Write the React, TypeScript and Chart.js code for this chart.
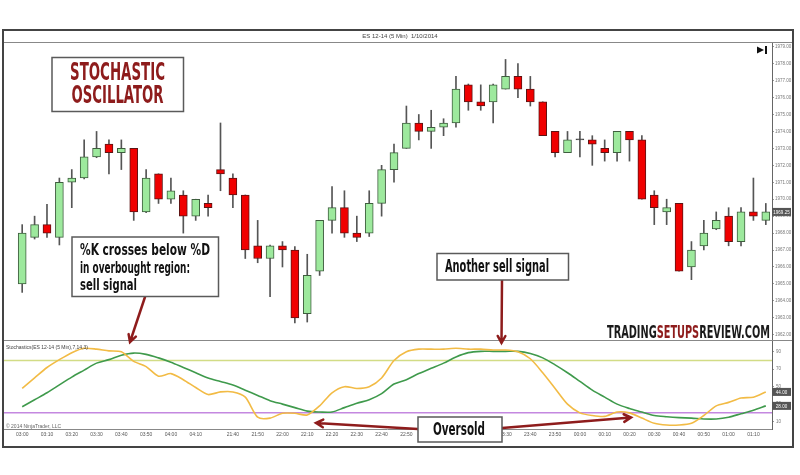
import React, { useEffect, useRef } from 'react';
import { Chart, registerables } from 'chart.js';

Chart.register(...registerables);

const TIMES = [
  '03:00', '03:05', '03:10', '03:15', '03:20', '03:25', '03:30', '03:35', '03:40', '03:45',
  '03:50', '03:55', '04:00', '04:05', '04:10', '04:15', '21:35', '21:40', '21:45', '21:50',
  '21:55', '22:00', '22:05', '22:10', '22:15', '22:20', '22:25', '22:30', '22:35', '22:40',
  '22:45', '22:50', '22:55', '23:00', '23:05', '23:10', '23:15', '23:20', '23:25', '23:30',
  '23:35', '23:40', '23:45', '23:50', '23:55', '00:00', '00:05', '00:10', '00:15', '00:20',
  '00:25', '00:30', '00:35', '00:40', '00:45', '00:50', '00:55', '01:00', '01:05', '01:10',
  '01:15',
];

const OPEN = [
  1965.0, 1967.75, 1968.5, 1967.75, 1971.0, 1971.25, 1972.5, 1973.25, 1972.75, 1973.0,
  1969.25, 1971.5, 1970.0, 1970.25, 1969.0, 1969.75, 1971.75, 1971.25, 1970.25, 1967.25,
  1966.5, 1967.25, 1967.0, 1963.25, 1965.75, 1968.75, 1969.5, 1968.0, 1968.0, 1969.75,
  1971.75, 1973.0, 1974.5, 1974.0, 1974.25, 1974.5, 1976.75, 1975.75, 1975.75, 1976.5,
  1977.25, 1976.5, 1975.75, 1974.0, 1972.75, 1973.5, 1973.5, 1973.0, 1972.75, 1974.0,
  1973.5, 1970.25, 1969.25, 1969.75, 1966.0, 1967.25, 1968.25, 1969.0, 1967.5, 1969.25,
  1968.75,
];
const HIGH = [
  1968.5, 1969.0, 1969.7, 1971.25, 1971.75, 1973.5, 1974.0, 1973.5, 1973.5, 1973.0,
  1971.75, 1971.5, 1971.25, 1970.5, 1970.0, 1970.25, 1974.5, 1971.5, 1970.25, 1968.75,
  1967.3, 1967.5, 1967.2, 1966.75, 1968.75, 1970.75, 1970.5, 1969.0, 1970.5, 1972.0,
  1973.25, 1975.5, 1975.0, 1975.25, 1974.75, 1977.25, 1976.8, 1976.75, 1976.8, 1978.25,
  1978.0, 1977.25, 1975.75, 1974.0, 1974.0, 1974.0, 1973.75, 1973.5, 1974.0, 1974.0,
  1973.75, 1970.5, 1970.0, 1969.75, 1967.5, 1968.75, 1969.25, 1969.5, 1969.5, 1971.25,
  1969.75,
];
const LOW = [
  1964.5, 1967.65, 1967.75, 1967.3, 1969.5, 1971.2, 1972.45, 1971.5, 1971.75, 1968.75,
  1969.2, 1969.75, 1969.75, 1968.0, 1968.75, 1969.0, 1970.5, 1969.5, 1966.5, 1966.25,
  1964.25, 1966.0, 1962.7, 1962.75, 1965.5, 1968.0, 1967.75, 1967.5, 1967.8, 1969.0,
  1971.0, 1973.0, 1973.5, 1973.0, 1973.75, 1974.25, 1975.25, 1975.25, 1974.5, 1976.5,
  1976.0, 1975.5, 1973.75, 1972.5, 1972.75, 1972.5, 1972.0, 1972.25, 1972.25, 1972.25,
  1970.0, 1968.5, 1968.5, 1965.75, 1965.25, 1967.0, 1968.2, 1967.25, 1967.25, 1968.75,
  1968.5,
];
const CLOSE = [
  1968.0, 1968.5, 1968.0, 1971.0, 1971.25, 1972.5, 1973.0, 1972.75, 1973.0, 1969.25,
  1971.25, 1970.0, 1970.5, 1969.0, 1970.0, 1969.5, 1971.5, 1970.25, 1967.0, 1966.5,
  1967.25, 1967.0, 1963.0, 1965.5, 1968.75, 1969.5, 1968.0, 1967.75, 1969.75, 1971.75,
  1972.75, 1974.5, 1974.0, 1974.25, 1974.5, 1976.5, 1975.75, 1975.5, 1976.75, 1977.25,
  1976.5, 1975.75, 1973.75, 1972.75, 1973.5, 1973.5, 1973.25, 1972.75, 1974.0, 1973.5,
  1970.0, 1969.5, 1969.5, 1965.75, 1967.0, 1968.0, 1968.75, 1967.5, 1969.25, 1969.0,
  1969.25,
];

const PCT_K = [
  48, 60, 72, 81, 89, 94, 93, 91, 90, 79,
  73, 62, 65, 58, 49, 41, 44, 44, 38, 15,
  14, 19.5, 19.5, 17.6, 28, 43, 50, 48, 50, 60,
  80, 90, 93, 93, 93, 94, 93, 93, 92, 92,
  90, 82, 66, 48, 30, 20, 17, 16, 21, 20,
  14, 8, 6, 6, 8, 17, 28, 32, 37, 38,
  44,
];
const PCT_D = [
  27, 35, 43, 52, 61, 69, 77, 81, 86, 88.5,
  87, 83, 78, 72, 66, 60, 56, 52, 46, 40,
  34, 30, 26, 22, 21, 21, 26, 31, 35, 42,
  53, 58, 65, 71, 77, 84, 89, 90.5, 90.5, 90.5,
  90.5, 88, 83, 75, 66, 56, 46, 38, 30, 25,
  21, 17, 15.5, 14.5, 14, 13, 13, 15, 19, 23,
  28,
];

const PRICE_TICKS = [1962, 1963, 1964, 1965, 1966, 1967, 1968, 1969, 1970, 1971, 1972, 1973, 1974, 1975, 1976, 1977, 1978, 1979];
const OSC_TICKS = [10, 20, 30, 40, 50, 60, 70, 80, 90];
const OVERBOUGHT = 80;
const OVERSOLD = 20;

const SMALL_FONT = '"Liberation Sans", Arial, sans-serif';
const ANNOT_FONT = '"Liberation Sans Narrow", "DejaVu Sans Condensed", "Roboto", "Liberation Sans", sans-serif';
const DARK_RED = '#8e1c1c';

function fitText(ctx: CanvasRenderingContext2D, parts: [string, string][], x: number, baseline: number, px: number, width: number) {
  ctx.save();
  ctx.font = `bold ${px}px ${ANNOT_FONT}`;
  const total = parts.reduce((s, [t]) => s + ctx.measureText(t).width, 0);
  const sx = width / total;
  ctx.translate(x, baseline);
  ctx.scale(sx, 1);
  ctx.textBaseline = 'alphabetic';
  ctx.textAlign = 'left';
  let cx = 0;
  for (const [t, c] of parts) {
    ctx.fillStyle = c;
    ctx.fillText(t, cx, 0);
    cx += ctx.measureText(t).width;
  }
  ctx.restore();
}

function box(ctx: CanvasRenderingContext2D, x1: number, y1: number, x2: number, y2: number) {
  ctx.save();
  ctx.fillStyle = '#ffffff';
  ctx.strokeStyle = '#5a5a5a';
  ctx.lineWidth = 1.5;
  ctx.fillRect(x1, y1, x2 - x1, y2 - y1);
  ctx.strokeRect(x1, y1, x2 - x1, y2 - y1);
  ctx.restore();
}

function arrow(ctx: CanvasRenderingContext2D, x1: number, y1: number, x2: number, y2: number) {
  ctx.save();
  ctx.strokeStyle = DARK_RED;
  ctx.lineWidth = 2.5;
  ctx.lineCap = 'round';
  ctx.beginPath();
  ctx.moveTo(x1, y1);
  ctx.lineTo(x2, y2);
  const a = Math.atan2(y2 - y1, x2 - x1);
  const L = 8;
  ctx.moveTo(x2 - L * Math.cos(a - 0.5), y2 - L * Math.sin(a - 0.5));
  ctx.lineTo(x2, y2);
  ctx.lineTo(x2 - L * Math.cos(a + 0.5), y2 - L * Math.sin(a + 0.5));
  ctx.stroke();
  ctx.restore();
}

function valueTag(ctx: CanvasRenderingContext2D, x: number, y: number, text: string) {
  ctx.save();
  ctx.fillStyle = '#555555';
  ctx.fillRect(x, y - 4, 19, 8);
  ctx.fillStyle = '#ffffff';
  ctx.font = `4.5px ${SMALL_FONT}`;
  ctx.textBaseline = 'middle';
  ctx.textAlign = 'center';
  ctx.fillText(text, x + 9.5, y + 0.5);
  ctx.restore();
}

const overlayPlugin = {
  id: 'overlay',
  beforeDraw(chart: any) {
    const ctx = chart.ctx as CanvasRenderingContext2D;
    ctx.save();
    ctx.fillStyle = '#ffffff';
    ctx.fillRect(0, 0, chart.width, chart.height);
    ctx.restore();
  },
  beforeDatasetsDraw(chart: any) {
    const ctx = chart.ctx as CanvasRenderingContext2D;
    const y2 = chart.scales.y2;
    const right = chart.chartArea.right;
    ctx.save();
    ctx.lineWidth = 1.5;
    ctx.strokeStyle = '#d2dc86';
    const yo = y2.getPixelForValue(OVERBOUGHT);
    ctx.beginPath();
    ctx.moveTo(3, yo);
    ctx.lineTo(right, yo);
    ctx.stroke();
    ctx.strokeStyle = '#c488e0';
    const ys = y2.getPixelForValue(OVERSOLD);
    ctx.beginPath();
    ctx.moveTo(3, ys);
    ctx.lineTo(right, ys);
    ctx.stroke();
    ctx.restore();
  },
  afterDraw(chart: any) {
    const ctx = chart.ctx as CanvasRenderingContext2D;
    const area = chart.chartArea;
    const y = chart.scales.y;
    const y2 = chart.scales.y2;

    // frame and panel separators
    ctx.save();
    ctx.strokeStyle = '#888888';
    ctx.lineWidth = 1;
    ctx.beginPath();
    ctx.moveTo(3, 42.5);
    ctx.lineTo(793, 42.5);
    ctx.moveTo(3, y.bottom + 0.5);
    ctx.lineTo(793, y.bottom + 0.5);
    ctx.moveTo(3, area.bottom + 0.5);
    ctx.lineTo(area.right, area.bottom + 0.5);
    ctx.stroke();
    ctx.strokeStyle = '#444444';
    ctx.lineWidth = 2;
    ctx.strokeRect(3, 30, 790, 417);
    ctx.restore();

    // tiny texts
    ctx.save();
    ctx.fillStyle = '#444444';
    ctx.font = `6px ${SMALL_FONT}`;
    ctx.textAlign = 'center';
    ctx.textBaseline = 'middle';
    ctx.fillText('ES 12-14 (5 Min)  1/10/2014', 400, 36.5);
    ctx.textAlign = 'left';
    ctx.font = `5px ${SMALL_FONT}`;
    ctx.fillText('Stochastics(ES 12-14 (5 Min),7,14,3)', 6, y.bottom + 8);
    ctx.fillStyle = '#666666';
    ctx.fillText('\u00a9 2014 NinjaTrader, LLC', 6, area.bottom - 2.5);
    ctx.restore();

    // go-to-end icon
    ctx.save();
    ctx.fillStyle = '#111111';
    ctx.beginPath();
    ctx.moveTo(757, 46.5);
    ctx.lineTo(757, 53.5);
    ctx.lineTo(764, 50);
    ctx.closePath();
    ctx.fill();
    ctx.fillRect(765, 46, 2, 8);
    ctx.restore();

    // current value tags
    valueTag(ctx, area.right, y.getPixelForValue(CLOSE[CLOSE.length - 1]), CLOSE[CLOSE.length - 1].toFixed(2));
    valueTag(ctx, area.right, y2.getPixelForValue(PCT_K[PCT_K.length - 1]), PCT_K[PCT_K.length - 1].toFixed(2));
    valueTag(ctx, area.right, y2.getPixelForValue(PCT_D[PCT_D.length - 1]), PCT_D[PCT_D.length - 1].toFixed(2));

    // title box
    box(ctx, 52, 57.5, 183.5, 111.5);
    fitText(ctx, [['STOCHASTIC', DARK_RED]], 70, 80, 24, 95);
    fitText(ctx, [['OSCILLATOR', DARK_RED]], 71.5, 102.5, 24, 92);

    // watermark
    fitText(ctx, [['TRADING', '#1a1a1a'], ['SETUPS', DARK_RED], ['REVIEW.COM', '#1a1a1a']], 607, 337.5, 18, 163);

    // arrows
    arrow(ctx, 145, 297, 130, 342);
    arrow(ctx, 502, 280, 501.5, 343);
    arrow(ctx, 418, 429, 316, 423);
    arrow(ctx, 502, 428, 631, 417.5);

    // annotation boxes
    box(ctx, 72, 237, 218.5, 296.5);
    fitText(ctx, [['%K crosses below %D', '#111111']], 80, 254.5, 15, 130);
    fitText(ctx, [['in overbought region:', '#111111']], 80, 273, 15, 110);
    fitText(ctx, [['sell signal', '#111111']], 80, 290, 15, 57);

    box(ctx, 437, 253.5, 568.5, 280);
    fitText(ctx, [['Another sell signal', '#111111']], 445, 272, 17, 104);

    box(ctx, 418, 417, 502, 442);
    fitText(ctx, [['Oversold', '#111111']], 433, 435, 17, 52);
  },
};

export default function App() {
  const ref = useRef<HTMLCanvasElement | null>(null);

  useEffect(() => {
    if (!ref.current) return;
    const up = (i: number) => CLOSE[i] > OPEN[i];
    const down = (i: number) => CLOSE[i] < OPEN[i];
    const chart = new Chart(ref.current, {
      type: 'bar',
      data: {
        labels: TIMES,
        datasets: [
          {
            type: 'bar',
            label: 'Body',
            data: OPEN.map((o, i) => [o, CLOSE[i]]) as any,
            xAxisID: 'x',
            yAxisID: 'y',
            grouped: false,
            barThickness: 8,
            minBarLength: 1,
            borderWidth: 1,
            borderSkipped: false,
            backgroundColor: OPEN.map((_, i) => (up(i) ? '#9de99d' : down(i) ? '#f00000' : '#444444')),
            borderColor: OPEN.map((_, i) => (up(i) ? '#3e5e3e' : down(i) ? '#5c1414' : '#444444')),
            order: 0,
          } as any,
          {
            type: 'bar',
            label: 'Wick',
            data: LOW.map((l, i) => [l, HIGH[i]]) as any,
            xAxisID: 'x',
            yAxisID: 'y',
            grouped: false,
            barThickness: 1,
            borderWidth: 0,
            backgroundColor: '#555555',
            order: 1,
          } as any,
          {
            type: 'line',
            label: '%D',
            data: PCT_D,
            xAxisID: 'x',
            yAxisID: 'y2',
            borderColor: '#3f9a4c',
            borderWidth: 1.6,
            pointRadius: 0,
            tension: 0.3,
            order: 3,
          } as any,
          {
            type: 'line',
            label: '%K',
            data: PCT_K,
            xAxisID: 'x',
            yAxisID: 'y2',
            borderColor: '#f2bb45',
            borderWidth: 1.6,
            pointRadius: 0,
            tension: 0.25,
            order: 2,
          } as any,
        ],
      },
      options: {
        responsive: false,
        devicePixelRatio: 1,
        animation: false,
        events: [],
        layout: { padding: { left: 16, right: 0, top: 42, bottom: 28 } },
        plugins: { legend: { display: false }, tooltip: { enabled: false } },
        scales: {
          x: {
            type: 'category',
            position: 'bottom',
            offset: true,
            grid: { display: false, drawTicks: false },
            border: { display: false },
            ticks: {
              autoSkip: false,
              maxRotation: 0,
              minRotation: 0,
              padding: 3,
              color: '#555555',
              font: { size: 5, family: SMALL_FONT },
              callback: (_v: any, i: number) => (TIMES[i].endsWith('0') ? TIMES[i] : ''),
            },
            afterFit: (s: any) => { s.height = 18; },
          },
          y: {
            type: 'linear',
            position: 'right',
            stack: 'panels',
            stackWeight: 298,
            min: 1961.69,
            max: 1979.28,
            grid: { drawOnChartArea: false, drawTicks: true, tickLength: 2, color: '#999999' },
            border: { display: true, color: '#666666', width: 1 },
            ticks: {
              padding: 1,
              color: '#777777',
              font: { size: 4.5, family: SMALL_FONT },
              callback: (v: any) => Number(v).toFixed(2),
            },
            afterBuildTicks: (s: any) => { s.ticks = PRICE_TICKS.map((v) => ({ value: v })); },
            afterFit: (s: any) => { s.width = 28; },
          },
          y2: {
            type: 'linear',
            position: 'right',
            stack: 'panels',
            stackWeight: 89,
            min: 1.5,
            max: 103.5,
            grid: { drawOnChartArea: false, drawTicks: true, tickLength: 2, color: '#999999' },
            border: { display: true, color: '#666666', width: 1 },
            ticks: {
              padding: 2,
              color: '#777777',
              font: { size: 4.5, family: SMALL_FONT },
              callback: (v: any) => String(v),
            },
            afterBuildTicks: (s: any) => { s.ticks = OSC_TICKS.map((v) => ({ value: v })); },
            afterFit: (s: any) => { s.width = 28; },
          },
        },
      } as any,
      plugins: [overlayPlugin as any],
    });
    return () => chart.destroy();
  }, []);

  return (
    <div style={{ position: 'absolute', left: 0, top: 0, width: 800, height: 475, background: '#ffffff' }}>
      <canvas ref={ref} width={800} height={475} style={{ display: 'block', width: 800, height: 475 }} />
    </div>
  );
}
